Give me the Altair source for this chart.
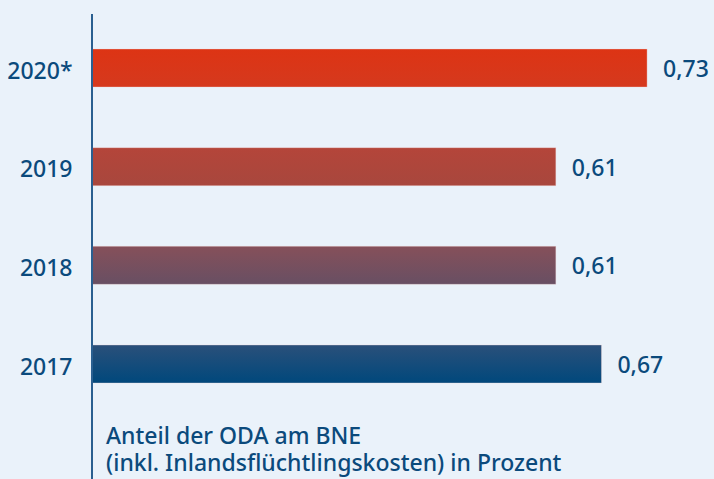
import altair as alt
import pandas as pd

years = ["2020*", "2019", "2018", "2017"]
values = [0.73, 0.61, 0.61, 0.67]
labels = ["0,73", "0,61", "0,61", "0,67"]

top_colors = ["#dd3414", "#b4453a", "#86505a", "#2a507a"]
bottom_colors = ["#d5391e", "#a8473d", "#684f63", "#00487c"]

df = pd.DataFrame({"year": years, "value": values, "label": labels})

TEXT = "#0b4a7c"
FONT = "Noto Sans"
W = 500

x = alt.X("value:Q", scale=alt.Scale(domain=[0, 0.818]), axis=None)
y = alt.Y(
    "year:N",
    sort=years,
    scale=alt.Scale(type="point", range=[54, 350], padding=0),
    axis=alt.Axis(
        title=None,
        ticks=False,
        domain=False,
        grid=False,
        labelFont=FONT,
        labelFontSize=23,
        labelFontWeight=W,
        labelColor=TEXT,
        labelPadding=20,
        labelOffset=3,
    ),
)

base = alt.Chart(df)

bars = []
for yr, c1, c2 in zip(years, top_colors, bottom_colors):
    grad = alt.Gradient(
        gradient="linear",
        x1=0, y1=0, x2=0, y2=1,
        stops=[alt.GradientStop(color=c1, offset=0), alt.GradientStop(color=c2, offset=1)],
    )
    bars.append(
        base.transform_filter(alt.datum.year == yr)
        .mark_bar(size=38, color=grad, stroke="#f3d9d4", strokeWidth=0.6, strokeOpacity=0.6)
        .encode(x=x, y=y)
    )

axis_line = alt.Chart(pd.DataFrame({"a": [0]})).mark_rule(
    color="#2a5f90", strokeWidth=2
).encode(x=alt.value(0), y=alt.value(0), y2=alt.value(470))

value_text = base.mark_text(
    align="left", baseline="middle", dx=16, dy=2,
    font=FONT, fontSize=23, fontWeight=W, color=TEXT,
).encode(x=x, y=y, text="label:N")

caption = alt.Chart(pd.DataFrame({"t": [["Anteil der ODA am BNE", "(inkl. Inlandsflüchtlingskosten) in Prozent"]]})).mark_text(
    align="left", baseline="alphabetic", font=FONT, fontSize=23, fontWeight=W,
    color=TEXT, lineHeight=27,
).encode(x=alt.value(14), y=alt.value(430), text="t")

chart = alt.layer(*bars, axis_line, value_text, caption).properties(
    width=622,
    height=465,
    padding={"left": 92, "top": 14, "right": 0, "bottom": 0},
    autosize=alt.AutoSizeParams(type="none"),
    background="#eaf2fa",
).configure_view(stroke=None)

chart.save("out.html", embed_options={"renderer": "svg", "actions": False})
